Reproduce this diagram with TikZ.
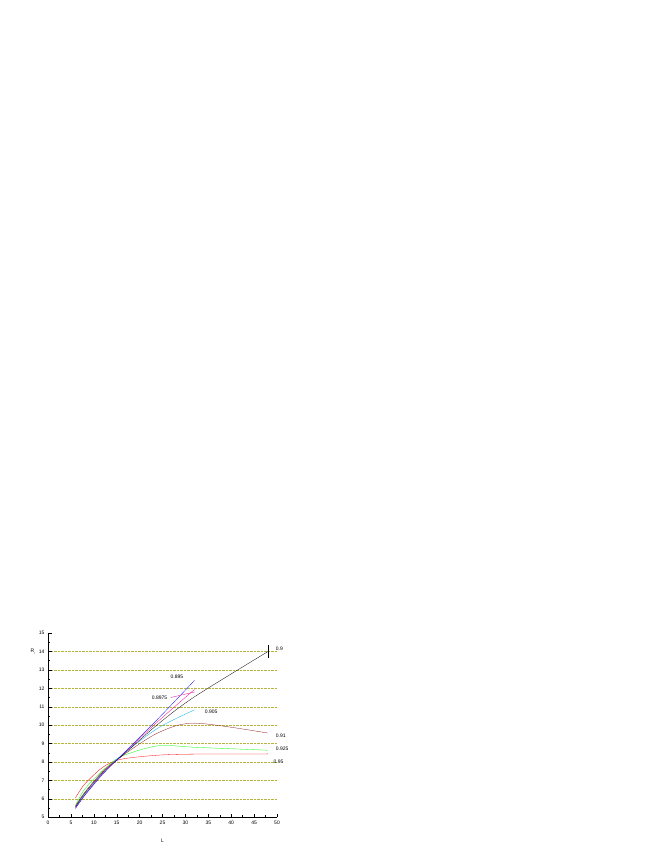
\documentclass[tikz,border=0pt]{standalone}
\usepackage{fontspec}
\setmainfont{Liberation Sans}
\usetikzlibrary{positioning}
\definecolor{gridolive}{RGB}{180,180,60}
\definecolor{brownred}{RGB}{140,20,20}
\begin{document}
\begin{tikzpicture}[
  x=1pt, y=1pt,
  every node/.style={font=\fontsize{5}{6}\selectfont},
  curve/.style={line width=0.3pt, smooth, mark=square*, mark size=0.9pt}
]
\useasboundingbox (0,0) rectangle (664,860);
\begin{scope}[shift={(48pt,-49.45pt)}, x=4.58pt, y=18.43pt]
% grid
\foreach \r in {6,...,14}
  \draw[gridolive, densely dotted, line width=0.4pt] (0,\r) -- (50,\r);
% axes
\draw[line width=0.4pt] (0,15) -- (0,5) -- (50,5);
\foreach \r in {5,...,15} {
  \draw (0,\r) -- ++(0.9,0);
  \node[left] at (0,\r) {\r};
}
\foreach \r in {5.5,6.5,...,14.5}
  \draw (0,\r) -- ++(0.5,0);
\foreach \l in {0,5,...,50} {
  \draw (\l,5) -- ++(0,0.18);
  \node[below] at (\l,5) {\l};
}
\foreach \l in {2.5,7.5,...,47.5}
  \draw (\l,5) -- ++(0,0.1);
\node (xlab) at (25,3.7) {L};
\node (ylab) at (-3.2,14) {R\textsubscript{,}};
% curves
\draw[red, curve] plot coordinates {(6,6.05) (8,6.8) (12,7.72) (16,8.15) (24,8.37) (32,8.43) (48,8.44)};
\draw[green, curve] plot coordinates {(6,5.65) (8,6.52) (12,7.55) (16,8.3) (24,8.88) (32,8.8) (48,8.64)};
\draw[brownred, curve] plot coordinates {(6,5.62) (8,6.35) (12,7.5) (16,8.3) (24,9.58) (32,10.11) (48,9.57)};
\draw[cyan, curve] plot coordinates {(6,5.55) (8,6.25) (12,7.4) (16,8.35) (24,9.84) (32,10.83)};
\draw[black, curve] plot coordinates {(6,5.55) (8,6.3) (12,7.45) (16,8.3) (24,10.05) (32,11.54) (48,13.99)};
\draw[magenta, curve] plot coordinates {(6,5.5) (8,6.2) (12,7.4) (16,8.33) (24,10.2) (32,11.94)};
\draw[blue, curve] plot coordinates {(6,5.48) (8,6.18) (12,7.35) (16,8.35) (24,10.34) (32,12.43)};
\draw[line width=0.3pt] (48,13.65) -- (48,14.35);
% labels
\node[right] (l90) at (49,14.15) {0.9};
\node[right] (l895) at (26,12.6) {0.895};
\node[left] (l8975) at (26.8,11.5) {0.8975};
\node[right] (l905) at (33.5,10.75) {0.905};
\node[right] (l91) at (49,9.4) {0.91};
\node[right] (l925) at (49,8.74) {0.925};
\node[right] (l95) at (48.5,8) {0.95};
\coordinate (p8975) at (32,11.8);
\draw[magenta, line width=0.3pt] (l8975.east) -- (p8975);
\end{scope}
\end{tikzpicture}
\end{document}
